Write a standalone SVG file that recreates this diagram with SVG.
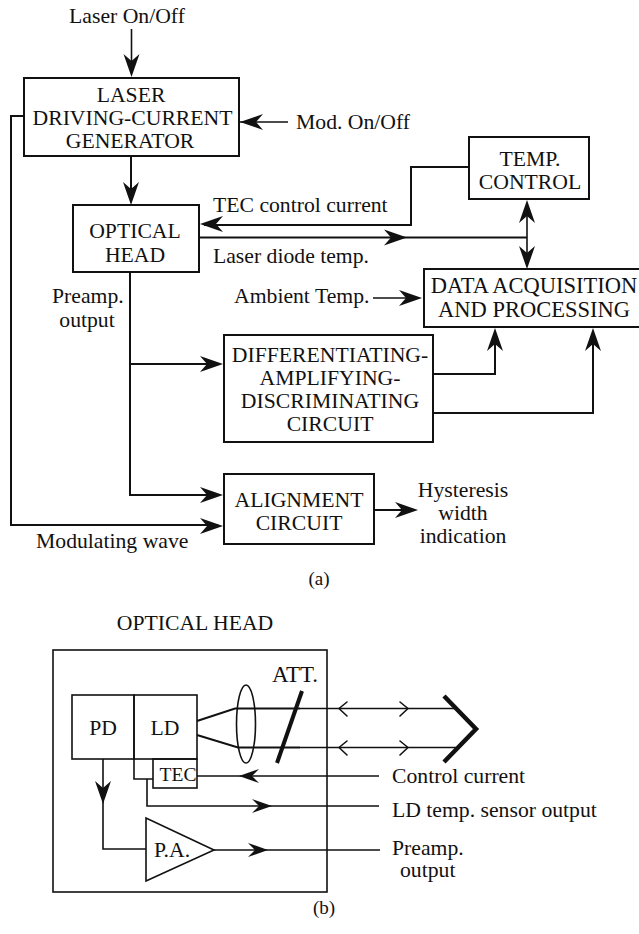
<svg xmlns="http://www.w3.org/2000/svg" width="639" height="934" viewBox="0 0 639 934">
<style>
text{font-family:"Liberation Serif","Times New Roman",serif;font-size:21.7px;fill:#111}
.m{text-anchor:middle}
.n{fill:#fff;stroke:#111;stroke-width:2}
.l{fill:none;stroke:#111;stroke-width:2}
.t{fill:none;stroke:#111;stroke-width:1.6}
.h{fill:#111;stroke:none}
.o{fill:none;stroke:#111;stroke-width:1.6;stroke-linecap:round;stroke-linejoin:round}
.k{fill:none;stroke:#111;stroke-width:4.500;stroke-linejoin:miter}
</style>
<defs>
<path id="a" class="h" d="M0 0L-23 -8L-16 0L-23 8Z"/>
<path id="b" class="h" d="M0 0L-20 -7L-13 0L-20 7Z"/>
</defs>
<rect width="639" height="934" fill="#fff"/>
<g id="connectors">
<path class="t" d="M131.500 29V72"/><use href="#a" transform="translate(131.500,77) rotate(90)"/>
<path class="t" d="M288 122H235"/><use href="#a" transform="translate(240,122) rotate(180)"/>
<path class="l" d="M131 157V200"/><use href="#a" transform="translate(131,205) rotate(90)"/>
<path class="l" d="M24 116H11V525H218"/><use href="#a" transform="translate(223,526)"/>
<path class="l" d="M130 272V495H218"/><use href="#a" transform="translate(223,495)"/>
<path class="l" d="M130 364H218"/><use href="#a" transform="translate(223,364)"/>
<path class="l" d="M469 167H411V225H204"/><use href="#a" transform="translate(200,224) rotate(180)"/>
<path class="l" d="M199 237.500H527"/><use href="#a" transform="translate(407,237.500)"/>
<path class="t" d="M527 204V265"/>
<use href="#a" transform="translate(527,200) rotate(-90)"/><use href="#a" transform="translate(527,269) rotate(90)"/>
<path class="t" d="M373 298H418"/><use href="#a" transform="translate(422,298)"/>
<path class="l" d="M433 374H495V333"/><use href="#a" transform="translate(495,328) rotate(-90)"/>
<path class="l" d="M433 413H593V333"/><use href="#a" transform="translate(593,328) rotate(-90)"/>
<path class="l" d="M375 510H414"/><use href="#a" transform="translate(418,510)"/>
<path class="l" d="M197 721L235 708.500H300M197 735L238 747.500H300"/>
<path class="t" d="M300 708.500H456M300 747.500H456"/>
<path class="k" d="M444 696L476 729L444 762"/>
<path class="o" d="M347 702L339 708.500L347 716M400 702L408 708.500L400 716"/>
<path class="o" d="M347 741L339 747.500L347 755M400 741L408 747.500L400 755"/>
<path class="t" d="M197 776H379"/><use href="#b" transform="translate(239,776) rotate(180)"/>
<path class="t" d="M147 779V806H379"/><use href="#b" transform="translate(272,806)"/>
<path class="t" d="M103 759V849H146"/><use href="#a" transform="translate(103,804) rotate(90)"/>
<path class="t" d="M214 850H380"/><use href="#b" transform="translate(268,850)"/>
</g>
<g id="laser-generator"><rect class="n" x="24" y="78" width="215" height="78"/><text class="m" x="131" y="102">LASER</text><text class="m" x="132.500" y="125">DRIVING-CURRENT</text><text class="m" x="130" y="148">GENERATOR</text></g>
<g id="optical-head"><rect class="n" x="73" y="205" width="126" height="67"/><text class="m" x="135" y="238">OPTICAL</text><text class="m" x="135" y="262">HEAD</text></g>
<g id="temp-control"><rect class="n" x="469" y="137" width="120" height="62"/><text class="m" x="530" y="166">TEMP.</text><text class="m" x="530" y="189">CONTROL</text></g>
<g id="data-acquisition"><rect class="n" x="424" y="269" width="220" height="58"/><text class="m" style="font-size:22.500px" x="534" y="293">DATA ACQUISITION</text><text class="m" style="font-size:22.500px" x="534" y="317">AND PROCESSING</text></g>
<g id="diff-circuit"><rect class="n" x="224" y="335" width="209" height="107"/><text class="m" x="330" y="362">DIFFERENTIATING-</text><text class="m" x="330" y="385">AMPLIFYING-</text><text class="m" x="330" y="408">DISCRIMINATING</text><text class="m" x="330" y="431">CIRCUIT</text></g>
<g id="alignment-circuit"><rect class="n" x="224" y="474" width="150" height="70"/><text class="m" x="299" y="507">ALIGNMENT</text><text class="m" x="299" y="530">CIRCUIT</text></g>
<g id="labels">
<text class="m" x="127" y="23">Laser On/Off</text>
<text x="296" y="129">Mod. On/Off</text>
<text x="213" y="212">TEC control current</text>
<text x="213" y="263">Laser diode temp.</text>
<text x="52" y="303">Preamp.</text>
<text class="m" x="87" y="327">output</text>
<text x="234" y="303">Ambient Temp.</text>
<text class="m" x="463" y="497">Hysteresis</text>
<text class="m" x="463" y="520">width</text>
<text class="m" x="463" y="543">indication</text>
<text x="36" y="548">Modulating wave</text>
<text class="m" style="font-size:19px" x="319" y="585">(a)</text>
<text class="m" x="195" y="630">OPTICAL HEAD</text>
<text class="m" style="font-size:19px" x="324" y="914">(b)</text>
<text x="392" y="783">Control current</text>
<text x="392" y="817">LD temp. sensor output</text>
<text x="392" y="855">Preamp.</text>
<text x="400" y="877">output</text>
</g>
<g id="optical-head-detail">
<rect class="t" x="53" y="650" width="274" height="242"/>
<rect class="t" x="72" y="695" width="62" height="64"/>
<rect class="t" x="134" y="695" width="63" height="64"/>
<path class="t" d="M134 759V779H153"/>
<rect class="t" x="153" y="759" width="44" height="29"/>
<ellipse class="t" cx="246" cy="724" rx="9.500" ry="39"/>
<path d="M302 691L277 763" fill="none" stroke="#111" stroke-width="4"/>
<path class="n" style="stroke-width:1.6" d="M146 818V881L214 850Z"/>
<text class="m" x="103" y="735">PD</text><text class="m" x="165" y="735">LD</text>
<text class="m" style="font-size:19.500px" x="178" y="781">TEC</text>
<text class="m" x="172" y="857">P.A.</text>
<text class="m" style="font-size:23px" x="295" y="682">ATT.</text>
</g>
</svg>
